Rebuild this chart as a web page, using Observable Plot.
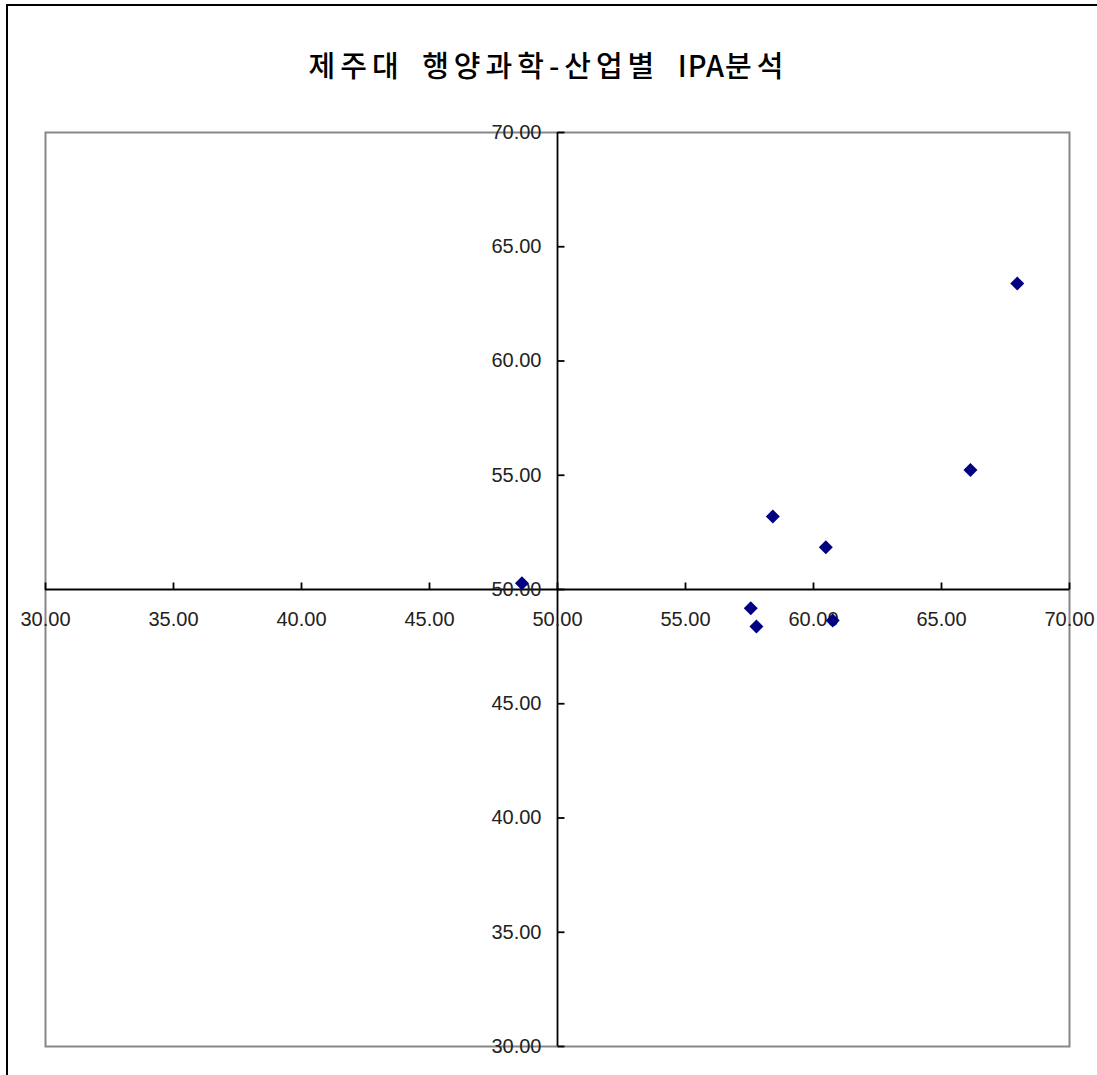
<!DOCTYPE html>
<html>
<head>
<meta charset="utf-8">
<script src="https://cdn.jsdelivr.net/npm/d3@7"></script>
<script src="https://cdn.jsdelivr.net/npm/@observablehq/plot@0.6"></script>
<style>
  html, body { margin: 0; padding: 0; background: #fff; overflow: hidden; }
  #wrap { position: relative; width: 1097px; height: 1075px; overflow: hidden; }
  #outer { position: absolute; left: 6px; top: 4px; width: 3000px; height: 3000px;
           border-top: 2px solid #000; border-left: 2px solid #000; box-sizing: border-box; pointer-events: none; }
  #title { position: absolute; left: 0; width: 1097px; top: 44px; text-align: center;
           font-family: "Noto Sans CJK KR", sans-serif; font-size: 29px; font-weight: 500; color: #000;
           line-height: 40px; letter-spacing: 5px; word-spacing: 7px; }
  #title .latin { letter-spacing: 1px; }
  #chart { position: absolute; left: 0; top: 0; }
</style>
</head>
<body>
<div id="wrap">
  <div id="chart"></div>
  <div id="outer"></div>
  <div id="title"></div>
</div>
<script>
const titleText = "제주대 행양과학-산업별 IPA분석";

// Performance (x) and Importance (y) for each industry point
const perfValues = [48.61, 57.55, 57.77, 60.75, 67.96, 66.13, 58.41, 60.48];
const impValues  = [50.27, 49.18, 48.38, 48.64, 63.39, 55.23, 53.19, 51.85];

const xTicks = [30, 35, 40, 45, 50, 55, 60, 65, 70];
const yTicks = [30, 35, 40, 45, 50, 55, 60, 65, 70];
const xDomain = [30, 70];
const yDomain = [30, 70];
const crossX = 50;
const crossY = 50;

const points = perfValues.map((x, i) => ({x, y: impValues[i]}));

// title: Latin runs get tighter spacing than Hangul
const titleEl = document.getElementById("title");
titleText.split(/([A-Za-z]+)/).forEach(part => {
  if (!part) return;
  if (/^[A-Za-z]+$/.test(part)) {
    const s = document.createElement("span");
    s.className = "latin";
    s.textContent = part;
    titleEl.appendChild(s);
  } else {
    titleEl.appendChild(document.createTextNode(part));
  }
});

// custom symbols (fixed pixel sizes)
const tickUp = { draw(ctx) { ctx.moveTo(0, 0); ctx.lineTo(0, -7); } };
const tickRight = { draw(ctx) { ctx.moveTo(0, 0); ctx.lineTo(7, 0); } };
const diamond = { draw(ctx) { const r = 7; ctx.moveTo(0, -r); ctx.lineTo(r, 0); ctx.lineTo(0, r); ctx.lineTo(-r, 0); ctx.closePath(); } };

const fmt = d3.format(".2f");
const labelFont = "Liberation Sans, Arial, sans-serif";

const chart = Plot.plot({
  width: 1097,
  height: 1075,
  marginLeft: 45,
  marginRight: 28,
  marginTop: 132,
  marginBottom: 29,
  x: {domain: xDomain, axis: null},
  y: {domain: yDomain, axis: null},
  style: {background: "transparent"},
  marks: [
    Plot.frame({stroke: "#878787", strokeWidth: 2}),
    Plot.ruleY([crossY], {x1: xDomain[0], x2: xDomain[1], stroke: "#000", strokeWidth: 1.8}),
    Plot.ruleX([crossX], {y1: yDomain[0], y2: yDomain[1], stroke: "#000", strokeWidth: 1.8}),
    Plot.dot(xTicks, {x: d => d, y: () => crossY, symbol: tickUp, stroke: "#000", strokeWidth: 1.8, fill: "none", r: 1}),
    Plot.dot(yTicks, {x: () => crossX, y: d => d, symbol: tickRight, stroke: "#000", strokeWidth: 1.8, fill: "none", r: 1}),
    Plot.text(xTicks, {x: d => d, y: () => crossY, text: d => fmt(d), dy: 30, fontSize: 20, fontFamily: labelFont, fill: "#222", textAnchor: "middle"}),
    Plot.text(yTicks, {x: () => crossX, y: d => d, text: d => fmt(d), dx: -16, fontSize: 20, fontFamily: labelFont, fill: "#222", textAnchor: "end"}),
    Plot.dot(points, {x: "x", y: "y", symbol: diamond, fill: "#000080", stroke: "none", r: 6})
  ]
});
document.getElementById("chart").appendChild(chart);
</script>
</body>
</html>
